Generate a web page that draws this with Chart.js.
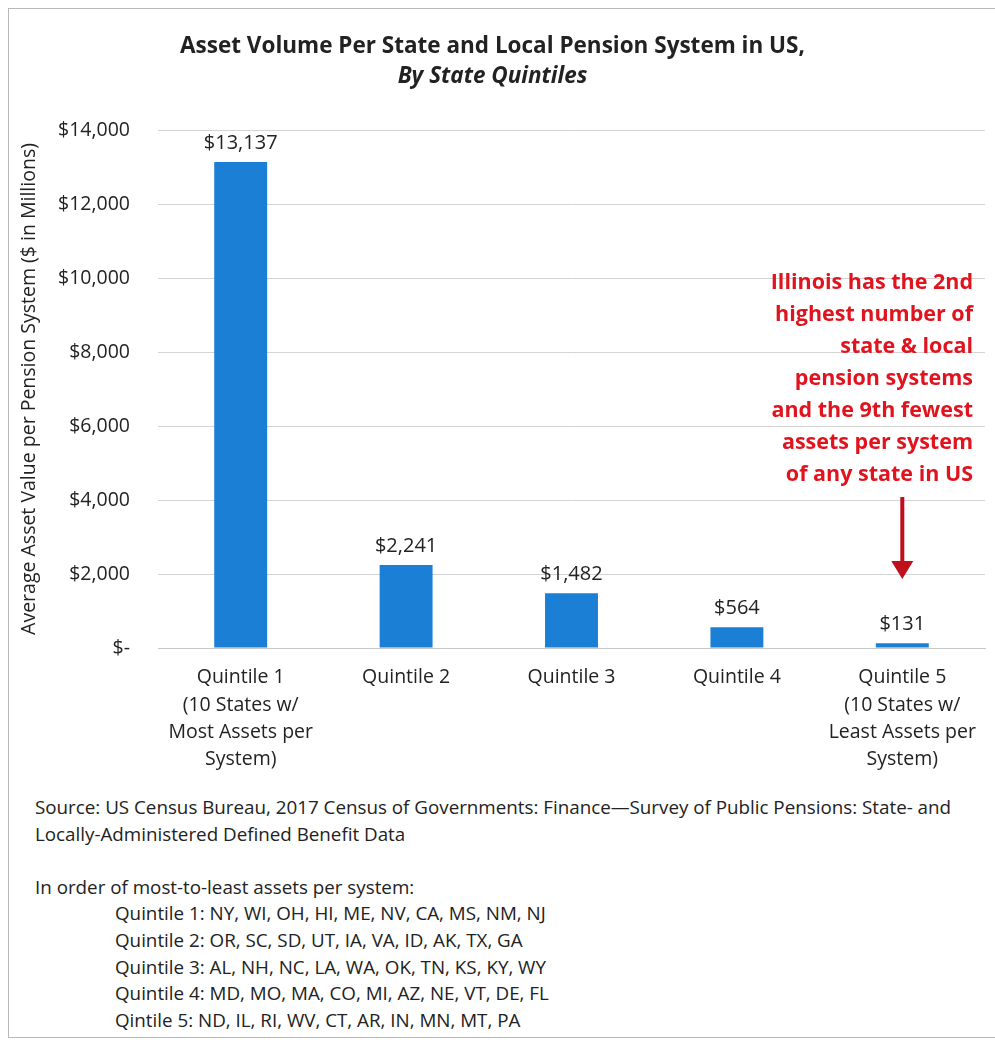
<!DOCTYPE html>
<html>
<head>
<meta charset="utf-8">
<script src="https://cdn.jsdelivr.net/npm/chart.js@4"></script>
<style>
  body { margin: 0; background: #fff; font-family: "Open Sans", sans-serif; }
  #wrap { position: relative; width: 995px; height: 1046px; overflow: hidden; }
  #frame { position: absolute; left: 8px; top: 8px; width: 1000px; height: 1030px; border: 1px solid #b8b8b8; box-sizing: border-box; }
  #chartBox { position: absolute; left: 0; top: 0; width: 995px; height: 790px; }
  #notes { position: absolute; left: 35px; top: 794px; font-size: 18.8px; line-height: 26.6px; color: #222; white-space: nowrap; }
  #notes .q { padding-left: 80px; }
</style>
</head>
<body>
<div id="wrap">
  <div id="frame"></div>
  <div id="chartBox"><canvas id="pensionChart"></canvas></div>
  <div id="notes">
    <div>Source: US Census Bureau, 2017 Census of Governments: Finance—Survey of Public Pensions: State- and</div>
    <div>Locally-Administered Defined Benefit Data</div>
    <div>&nbsp;</div>
    <div>In order of most-to-least assets per system:</div>
    <div class="q">Quintile 1: NY, WI, OH, HI, ME, NV, CA, MS, NM, NJ</div>
    <div class="q">Quintile 2: OR, SC, SD, UT, IA, VA, ID, AK, TX, GA</div>
    <div class="q">Quintile 3: AL, NH, NC, LA, WA, OK, TN, KS, KY, WY</div>
    <div class="q">Quintile 4: MD, MO, MA, CO, MI, AZ, NE, VT, DE, FL</div>
    <div class="q">Qintile 5: ND, IL, RI, WV, CT, AR, IN, MN, MT, PA</div>
  </div>
</div>
<script>
// values ($ in millions)
const quintiles = [
  ['Quintile 1', '(10 States w/', 'Most Assets per', 'System)'],
  ['Quintile 2'],
  ['Quintile 3'],
  ['Quintile 4'],
  ['Quintile 5', '(10 States w/', 'Least Assets per', 'System)']
];
const avgAssets = [13137, 2241, 1482, 564, 131];
const noteLines = [
  'Illinois has the 2nd',
  'highest number of',
  'state & local',
  'pension systems',
  'and the 9th fewest',
  'assets per system',
  'of any state in US'
];

const FONT = 'Open Sans';

function money(v) {
  return v === 0 ? '$-' : '$' + v.toLocaleString('en-US');
}

// value labels above bars + red callout with arrow
const extras = {
  id: 'extras',
  afterDatasetsDraw(chart) {
    const ctx = chart.ctx;
    const meta = chart.getDatasetMeta(0);
    ctx.save();
    ctx.font = '20px ' + FONT;
    ctx.fillStyle = '#222';
    ctx.textAlign = 'center';
    ctx.textBaseline = 'bottom';
    meta.data.forEach((bar, i) => {
      ctx.fillText(money(avgAssets[i]), bar.x, bar.y - 9);
    });

    const area = chart.chartArea;
    ctx.font = 'bold 21.5px ' + FONT;
    ctx.fillStyle = '#e0141e';
    ctx.textAlign = 'right';
    ctx.textBaseline = 'middle';
    noteLines.forEach((t, i) => {
      ctx.fillText(t, area.right - 12, area.top + 153 + i * 32);
    });

    const ax = chart.scales.x.getPixelForValue(4);
    const y0 = area.top + 367, y1 = area.top + 449;
    ctx.strokeStyle = '#c0101a';
    ctx.fillStyle = '#c0101a';
    ctx.lineWidth = 4;
    ctx.beginPath();
    ctx.moveTo(ax, y0);
    ctx.lineTo(ax, y1 - 16);
    ctx.stroke();
    ctx.beginPath();
    ctx.moveTo(ax - 11, y1 - 18);
    ctx.lineTo(ax + 11, y1 - 18);
    ctx.lineTo(ax, y1);
    ctx.closePath();
    ctx.fill();
    ctx.restore();
  }
};

new Chart(document.getElementById('pensionChart'), {
  type: 'bar',
  data: {
    labels: quintiles,
    datasets: [{
      data: avgAssets,
      backgroundColor: '#1a7fd5',
      barPercentage: 0.64,
      categoryPercentage: 0.5
    }]
  },
  options: {
    responsive: true,
    maintainAspectRatio: false,
    animation: false,
    layout: { padding: { top: 28, right: 10, left: 0, bottom: 0 } },
    plugins: {
      legend: { display: false },
      tooltip: { enabled: false },
      title: {
        display: true,
        text: 'Asset Volume Per State and Local Pension System in US,',
        color: '#222',
        font: { family: FONT, size: 22.5, weight: 'bold', lineHeight: 1.2 },
        padding: { top: 5, bottom: 3 }
      },
      subtitle: {
        display: true,
        text: 'By State Quintiles',
        color: '#222',
        font: { family: FONT, size: 22.5, weight: 'bold', style: 'italic', lineHeight: 1.2 },
        padding: { top: 0, bottom: 40 }
      }
    },
    scales: {
      x: {
        grid: { display: false },
        border: { color: '#c8c8c8', width: 1 },
        ticks: {
          color: '#222',
          padding: 8,
          font: { family: FONT, size: 19.5, lineHeight: 1.4 }
        },
        afterFit(scale) { scale.height = 142; }
      },
      y: {
        min: 0,
        max: 14000,
        grid: { color: '#d4d4d4', drawTicks: false },
        border: { display: false },
        ticks: {
          stepSize: 2000,
          color: '#222',
          padding: 28,
          font: { family: FONT, size: 19.5 },
          callback: v => money(v)
        },
        title: {
          display: true,
          text: 'Average Asset Value per Pension System ($ in Millions)',
          color: '#222',
          font: { family: FONT, size: 19.5, lineHeight: 1.2 },
          padding: { top: 18, bottom: 0 }
        },
        afterFit(scale) { scale.width = 158; }
      }
    }
  },
  plugins: [extras]
});
</script>
</body>
</html>
